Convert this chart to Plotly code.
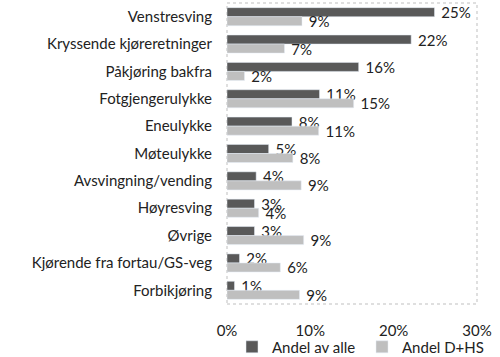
import plotly.graph_objects as go

categories = ["Venstresving", "Kryssende kjøreretninger", "Påkjøring bakfra",
              "Fotgjengerulykke", "Eneulykke", "Møteulykke", "Avsvingning/vending",
              "Høyresving", "Øvrige", "Kjørende fra fortau/GS-veg", "Forbikjøring"]
andel_alle = [24.9, 22.1, 15.8, 11.1, 7.8, 5.0, 3.5, 3.3, 3.3, 1.5, 0.9]
andel_dhs = [9.0, 6.9, 2.1, 15.2, 11.0, 7.9, 8.9, 3.8, 9.2, 6.4, 8.7]
x_ticks = [0, 10, 20, 30]
x_tick_labels = ["0%", "10%", "20%", "30%"]

FONT = "Lato, 'Open Sans', sans-serif"
TXT = "#222222"

fig = go.Figure()
fig.add_trace(go.Bar(y=categories, x=andel_alle, orientation="h", name="Andel av alle",
                     marker_color="#595959", texttemplate="\u00a0%{x:.0f}%",
                     textposition="outside", cliponaxis=False, constraintext="none",
                     textfont=dict(size=15, color=TXT, family=FONT)))
fig.add_trace(go.Bar(y=categories, x=andel_dhs, orientation="h", name="Andel D+HS",
                     marker_color="#bfbfbf", texttemplate="\u00a0%{x:.0f}%",
                     textposition="outside", cliponaxis=False, constraintext="none",
                     textfont=dict(size=15, color=TXT, family=FONT)))

fig.update_layout(
    width=500, height=357,
    margin=dict(l=227, r=23, t=3, b=53, autoexpand=False),
    barmode="group", bargap=0.34, bargroupgap=0,
    paper_bgcolor="white", plot_bgcolor="white",
    font=dict(family=FONT, size=15, color=TXT),
    showlegend=True,
    legend=dict(orientation="h", x=1.06, xanchor="right",
                y=-0.143, yanchor="middle", bgcolor="rgba(0,0,0,0)",
                font=dict(size=15, color=TXT), itemwidth=30, entrywidth=85,
                traceorder="normal"),
)
fig.update_xaxes(range=[0, 30], tickvals=x_ticks, ticktext=x_tick_labels, tickangle=0,
                 showgrid=False, zeroline=False, showline=False, automargin=False,
                 ticklabelstandoff=16, tickfont=dict(size=15))
fig.update_yaxes(autorange="reversed", showgrid=False, showline=False, automargin=False,
                 ticklabelstandoff=14, tickfont=dict(size=15))
fig.add_shape(type="rect", xref="paper", yref="paper", x0=0, x1=1, y0=0, y1=1,
              line=dict(color="#bfbfbf", width=1, dash="dot"), fillcolor="rgba(0,0,0,0)",
              layer="below")

fig.write_html("out.html", config={"displayModeBar": False},
               post_script="document.body.style.margin='0';document.body.style.padding='0';")
